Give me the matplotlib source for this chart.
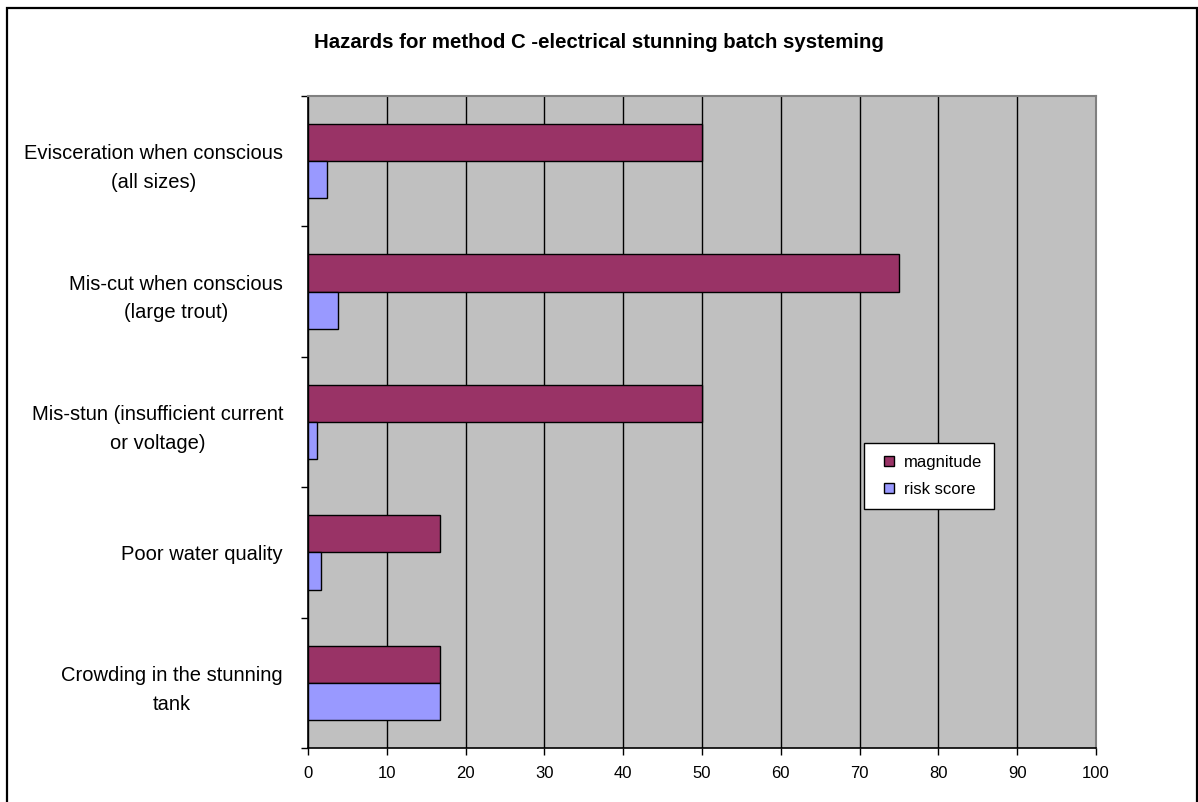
import matplotlib
matplotlib.use("Agg")
import matplotlib.pyplot as plt
from matplotlib.patches import Rectangle
from matplotlib.lines import Line2D
import numpy as np

plt.rcParams['font.family'] = ['Liberation Sans', 'DejaVu Sans']

# hazards, top to bottom
hazards = [
    'Evisceration when conscious\n(all sizes)',
    'Mis-cut when conscious\n(large trout)',
    'Mis-stun (insufficient current\nor voltage)',
    'Poor water quality',
    'Crowding in the stunning\ntank',
]
magnitude = [50, 75, 50, 16.7, 16.7]
risk_score = [2.4, 3.8, 1.2, 1.6, 16.7]

series_names = ['magnitude', 'risk score']
series_colors = ['#993366', '#9999FF']

fig = plt.figure(figsize=(11.98, 8.02), dpi=100)
ax = fig.add_axes([308 / 1198, 1 - 748 / 802, (1096 - 308) / 1198, (748 - 96) / 802])

y = np.arange(len(hazards))
h = 0.285
ax.barh(y - h / 2, magnitude, height=h, color=series_colors[0], edgecolor='black', linewidth=1, zorder=3)
ax.barh(y + h / 2, risk_score, height=h, color=series_colors[1], edgecolor='black', linewidth=1, zorder=3)

ax.set_facecolor('#C0C0C0')
ax.set_xlim(0, 100)
ax.set_ylim(len(hazards) - 0.5, -0.5)
ax.set_xticks(np.arange(0, 101, 10))
ax.xaxis.grid(True, color='black', linewidth=1, zorder=1)
ax.set_axisbelow(True)

ax.set_yticks(y)
ax.set_yticklabels(hazards, multialignment='center', fontsize=14.5, linespacing=1.65)
ax.set_yticks(np.arange(-0.5, len(hazards)), minor=True)
ax.tick_params(axis='y', which='major', length=0, pad=18)
ax.tick_params(axis='y', which='minor', length=5, width=1, direction='out')
ax.tick_params(axis='x', length=5, width=1, direction='out', labelsize=12, pad=8)

for s in ['left', 'bottom']:
    ax.spines[s].set_color('black')
    ax.spines[s].set_linewidth(1.2)
for s in ['top', 'right']:
    ax.spines[s].set_color('#808080')
    ax.spines[s].set_linewidth(1.5)

fig.text(0.5, 1 - 43 / 802, 'Hazards for method C -electrical stunning batch systeming',
         ha='center', va='center', fontsize=14.7, fontweight='bold')

# square swatches for the legend
handles = [Line2D([], [], linestyle='none', marker='s', markersize=7, markerfacecolor=c,
                  markeredgecolor='black', markeredgewidth=1) for c in series_colors]
leg = fig.legend(handles, series_names, loc='upper left', bbox_to_anchor=(864 / 1198, 1 - 443 / 802),
                 borderaxespad=0, fontsize=12, frameon=True, fancybox=False, handlelength=1.6,
                 handletextpad=0.1, labelspacing=0.75, borderpad=0.7)
leg.get_frame().set_edgecolor('black')
leg.get_frame().set_linewidth(1)
leg.get_frame().set_facecolor('white')
leg.get_frame().set_alpha(1)

# outer chart border
fig.patches.append(Rectangle((7 / 1198, -0.02), (1197 - 7) / 1198, 1.02 - 8 / 802,
                             transform=fig.transFigure, fill=False, edgecolor='black', linewidth=1.6))

fig.savefig('out.png', dpi=100)
